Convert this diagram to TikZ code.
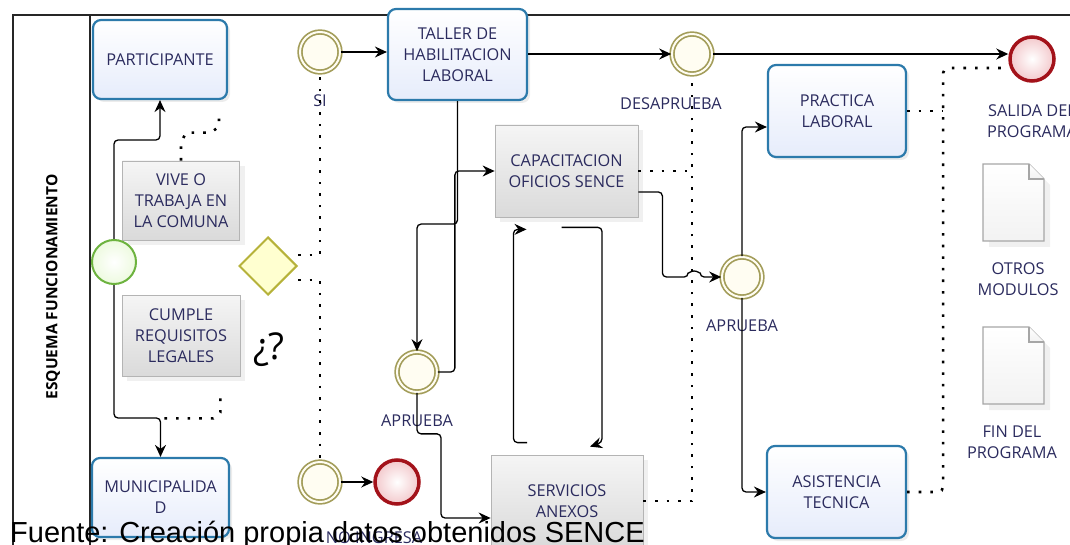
\documentclass[tikz,border=0pt]{standalone}
\usepackage{fontspec}
\setmainfont{Open Sans}
\newfontfamily\fuentefont{Liberation Sans}
\usetikzlibrary{shapes.geometric,arrows.meta,shadows}
\definecolor{taskblue}{HTML}{2C7AAB}
\definecolor{taskfill}{HTML}{E6ECFB}
\definecolor{notebord}{HTML}{B4B4B4}
\definecolor{notetop}{HTML}{F5F5F5}
\definecolor{notebot}{HTML}{DADADA}
\definecolor{evol}{HTML}{A39D5A}
\definecolor{evfill}{HTML}{FFFDF2}
\definecolor{endred}{HTML}{A3121A}
\definecolor{endfill}{HTML}{F3C9CC}
\definecolor{startgrn}{HTML}{6DB33F}
\definecolor{startfill}{HTML}{EDFADF}
\definecolor{gwbord}{HTML}{B6B23A}
\definecolor{gwfill}{HTML}{FFFFD0}
\definecolor{txt}{HTML}{2B2B5E}
\begin{document}
\begin{tikzpicture}[x=1pt,y=-1pt,
    every node/.style={font=\fontsize{16.3}{21}\selectfont, text=txt},
    task/.style={draw=taskblue, line width=2.2pt, rounded corners=8pt, top color=white, bottom color=taskfill,
        align=center, inner sep=0pt, drop shadow={shadow xshift=3pt, shadow yshift=-3pt, opacity=0.15}},
    note/.style={draw=notebord, line width=0.8pt, top color=notetop, bottom color=notebot,
        align=center, inner sep=0pt, drop shadow={shadow xshift=5pt, shadow yshift=-5pt, opacity=0.12}},
    evmid/.style={circle, draw=evol, line width=1.7pt, double=evfill, double distance=2pt, fill=evfill,
        minimum size=40pt, inner sep=0pt},
    evend/.style={circle, draw=endred, line width=3.5pt, inner color=white, outer color=endfill,
        minimum size=44pt, inner sep=0pt},
    evstart/.style={circle, draw=startgrn, line width=2pt, inner color=white, outer color=startfill,
        minimum size=44pt, inner sep=0pt},
    gate/.style={diamond, draw=gwbord, line width=2pt, fill=gwfill, minimum width=58pt, minimum height=58pt, inner sep=0pt},
    docst/.style={draw=gray!70, line width=1.3pt, top color=white, bottom color=gray!10},
    flow/.style={draw=black, line width=1.3pt, rounded corners=4pt, -{Stealth[length=12pt,width=11pt,inset=4pt]}},
    assoc/.style={draw=black, line width=2.6pt, dash pattern=on 2.6pt off 9pt}]
    \useasboundingbox (0,0) rectangle (1070,545);
    \clip (0,0) rectangle (1070,545);
    % lane
    \draw[line width=1.3pt, black!85] (13,545) -- (13,15) -- (1070,15);
    \draw[line width=1.3pt, black!85] (90,15) -- (90,545);
    \node[rotate=90, font=\bfseries\fontsize{15.5}{15.5}\selectfont, text=black] (lane) at (53,287) {ESQUEMA FUNCIONAMIENTO};
    % tasks and notes
    \node[task, minimum width=134pt, minimum height=79pt] (part) at (160,59.5) {PARTICIPANTE};
    \node[task, minimum width=137pt, minimum height=79pt] (muni) at (160.5,497.5) {MUNICIPALIDA\\D};
    \node[note, minimum width=117pt, minimum height=79pt] (vive) at (181,200.5) {VIVE O\\TRABAJA EN\\LA COMUNA};
    \node[note, minimum width=118pt, minimum height=81pt] (cumple) at (181,335.5) {CUMPLE\\REQUISITOS\\LEGALES};
    \node[task, minimum width=139pt, minimum height=91pt] (taller) at (457.5,54.5) {TALLER DE\\HABILITACION\\LABORAL};
    \node[note, minimum width=143pt, minimum height=92pt] (capac) at (566.5,171) {CAPACITACION\\OFICIOS SENCE};
    \node[note, minimum width=152pt, minimum height=92pt] (servic) at (567,501) {SERVICIOS\\ANEXOS};
    \node[task, minimum width=138pt, minimum height=92pt] (pract) at (837,111) {PRACTICA\\LABORAL};
    \node[task, minimum width=139pt, minimum height=92pt] (asist) at (836.5,492) {ASISTENCIA\\TECNICA};
    % events and gateway
    \node[evstart] (start) at (114,262) {};
    \node[gate] (gw) at (268,266) {};
    \node[evmid] (si) at (320,52) {};
    \node[evmid] (no) at (320,482) {};
    \node[evend] (endno) at (397,482) {};
    \node[evmid] (apr1) at (417,372) {};
    \node[evmid] (desap) at (692,54) {};
    \node[evmid] (apr2) at (742,277) {};
    \node[evend] (salida) at (1032,59) {};
    % documents
    \draw[docst, drop shadow={shadow xshift=6pt, shadow yshift=-6pt, opacity=0.12}] (983,164) -- (1029,164) -- (1044,179) -- (1044,241) -- (983,241) -- cycle;
    \draw[docst] (1029,164) -- (1029,179) -- (1044,179);
    \draw[docst, drop shadow={shadow xshift=6pt, shadow yshift=-6pt, opacity=0.12}] (983,327) -- (1029,327) -- (1044,342) -- (1044,404) -- (983,404) -- cycle;
    \draw[docst] (1029,327) -- (1029,342) -- (1044,342);
    % labels
    \node (lblsi) at (320,101) {SI};
    \node (lbldes) at (671,104) {DESAPRUEBA};
    \node (lblapr1) at (417,421) {APRUEBA};
    \node (lblapr2) at (742,326) {APRUEBA};
    \node[align=center] (lblsal) at (1032,121) {SALIDA DEL\\PROGRAMA};
    \node[align=center] (lblotr) at (1018,279) {OTROS\\MODULOS};
    \node[align=center] (lblfin) at (1012,442) {FIN DEL\\PROGRAMA};
    \node (lblno) at (374,538) {NO INGRESA};
    \node[font=\fontsize{37}{37}\selectfont, text=black] (pregunta) at (269,350) {¿?};
    % sequence flows
    \draw[flow] (start.north) -- ++(0,-99) -| (part.south);
    \draw[flow] (start.south) -- ++(0,133) -| (muni.north);
    \draw[flow] (si.east) -- (si.east -| taller.west);
    \draw[flow] (taller.east |- desap.west) -- (desap.west);
    \draw[flow] (desap.east) -- (desap.east -| salida.west);
    \draw[flow] (no.east) -- (endno.west);
    \draw[flow] (taller.south) -- ++(0,123) -| (apr1.north);
    \draw[flow] (apr1.east) -- ++(17,0) |- (capac.west);
    \draw[flow] (apr1.south) -- ++(0,41) -- ++(24,0) |- ([yshift=-17pt]servic.west);
    \draw[flow] ([xshift=-40pt,yshift=12pt]servic.north) -| ([xshift=-53pt,yshift=-12pt]capac.south) -- ([xshift=-40pt,yshift=-12pt]capac.south);
    \draw[flow] ([xshift=-5pt,yshift=-10pt]capac.south) -| ([xshift=35pt,yshift=12pt]servic.north) -- ([xshift=23pt,yshift=8pt]servic.north);
    \draw[flow] ([yshift=-21pt]capac.east) -- ++(24,0) |- ([xshift=-33pt]apr2.west) arc[start angle=180, end angle=360, radius=6] -- (apr2.west);
    \draw[flow] (apr2.north) |- ([yshift=-16pt]pract.west);
    \draw[flow] (apr2.south) |- (asist.west);
    % associations
    \draw[assoc] (vive.north) -- ++(0,-18) -- ++(5,-10) -- ++(25,0) -- ++(8,-6) -- ++(0,-14) coordinate (vivefin);
    \draw[assoc] ([xshift=-20pt,yshift=-22pt]cumple.south east) -- ++(0,14) -- ++(-7,6) -- ++(-50,0) coordinate (cumplefin);
    \draw[assoc] ([yshift=11pt]gw.east) -| (si.south);
    \draw[assoc] ([yshift=-14pt]gw.east) -| (no.north);
    \draw[assoc] (capac.east) -- (capac.east -| desap.south);
    \draw[assoc] (servic.east) -| (desap.south);
    \draw[assoc] (pract.east) -- ++(36,0) coordinate (practfin);
    \draw[assoc, rounded corners=5pt] (asist.east) -- ++(36,0) |- ([yshift=-9pt]salida.west);
    % source
    \node[anchor=base west, inner sep=0pt, font=\fuentefont\fontsize{29}{29}\selectfont, text=black] (fuente) at (10,542) {Fuente: Creación propia datos obtenidos SENCE};
\end{tikzpicture}
\end{document}
